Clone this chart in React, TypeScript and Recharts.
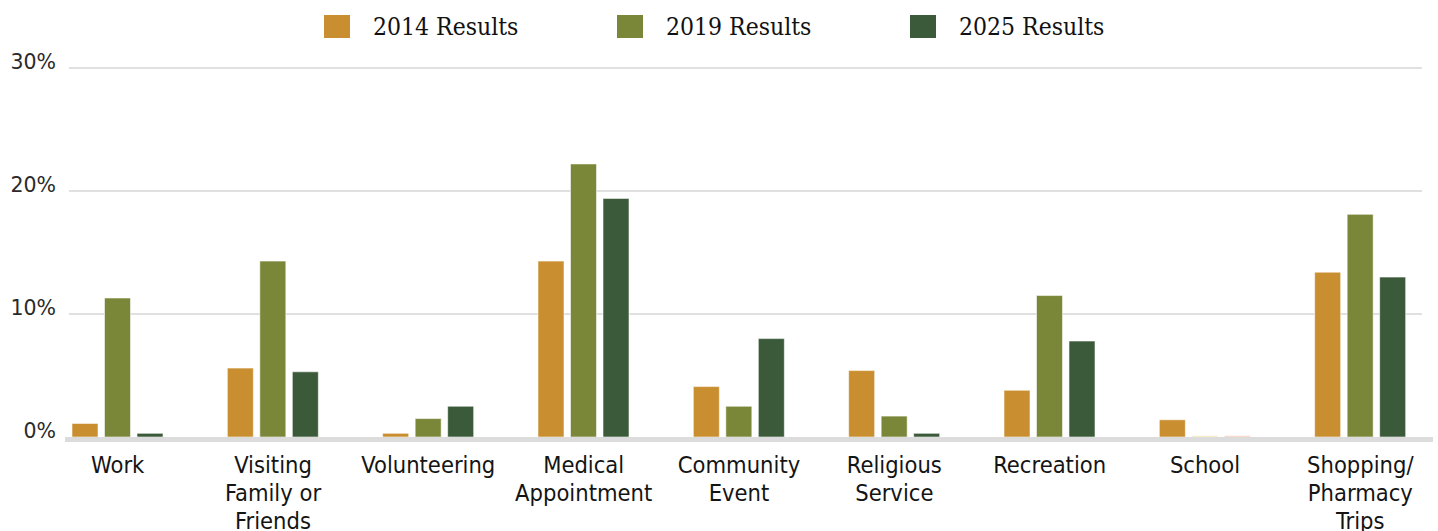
import React from 'react';
import { BarChart, Bar, XAxis, YAxis, CartesianGrid, ReferenceLine, Cell } from 'recharts';

const categories = [
  'Work',
  'Visiting\nFamily or\nFriends',
  'Volunteering',
  'Medical\nAppointment',
  'Community\nEvent',
  'Religious\nService',
  'Recreation',
  'School',
  'Shopping/\nPharmacy\nTrips',
];
const results2014 = [1.1, 5.6, 0.3, 14.3, 4.1, 5.4, 3.8, 1.4, 13.4];
const results2019 = [11.3, 14.3, 1.5, 22.2, 2.5, 1.7, 11.5, 0.1, 18.1];
const results2025 = [0.3, 5.3, 2.5, 19.4, 8.0, 0.3, 7.8, 0.1, 13.0];
const yTicks = [0, 10, 20, 30];

const seriesNames = ['2014 Results', '2019 Results', '2025 Results'];
const colors = ['#C98E2F', '#7A8638', '#3A5A3A'];
// the near-zero School bars show up as pale slivers in the original
const paleSchool = ['#C98E2F', '#F1E3A6', '#F2C3AE'];

const data = categories.map((c, i) => ({
  name: c,
  r2014: results2014[i],
  r2019: results2019[i],
  r2025: results2025[i],
}));

const W = 1438;
const H = 531;

const XTick = ({ x, y, payload }: any) => {
  const lines = String(payload.value).split('\n');
  return (
    <text
      x={x}
      y={y}
      textAnchor="middle"
      fill="#141414"
      style={{ fontFamily: '"DejaVu Sans Condensed", "DejaVu Sans", sans-serif', fontSize: 23.5 }}
    >
      {lines.map((l, i) => (
        <tspan key={i} x={x} dy={i === 0 ? 36 : 28}>
          {l}
        </tspan>
      ))}
    </text>
  );
};

const YTick = ({ x, y, payload }: any) => (
  <text
    x={x + 16}
    y={y - 6}
    textAnchor="end"
    dominantBaseline="central"
    fill="#2a2a2a"
    style={{ fontFamily: '"DejaVu Sans", sans-serif', fontSize: 20.5 }}
  >
    {payload.value}%
  </text>
);

const AxisBand = (props: any) => {
  const { x1, x2, y1 } = props;
  return <line x1={x1 + 25} x2={x2 - 5} y1={y1 + 2.5} y2={y1 + 2.5} stroke="#dcdcdc" strokeWidth={5} />;
};

const LegendRow = () => (
  <div style={{ position: 'absolute', left: 0, top: 0, width: W, height: 50 }}>
    {seriesNames.map((n, i) => (
      <div key={n} style={{ position: 'absolute', left: 324 + i * 293, top: 15, height: 23, display: 'flex', alignItems: 'center' }}>
        <div style={{ width: 26, height: 23, background: colors[i] }} />
        <span
          style={{
            marginLeft: 23,
            fontFamily: '"DejaVu Serif Condensed", "DejaVu Serif", serif',
            fontStretch: 'condensed',
            fontSize: 24.5,
            color: '#111',
            whiteSpace: 'nowrap',
            lineHeight: '23px',
          }}
        >
          {n}
        </span>
      </div>
    ))}
  </div>
);

export default function App() {
  return (
    <div style={{ position: 'absolute', left: 0, top: 0, width: W, height: H, background: '#fff' }}>
      <BarChart
        width={W}
        height={H}
        data={data}
        margin={{ top: 68, right: 0, bottom: 0, left: 0 }}
        barSize={26}
        barGap={6.5}
      >
        <CartesianGrid
          vertical={false}
          x={69}
          width={1353}
          stroke="#e0e0e0"
          strokeWidth={2}
          horizontalValues={[10, 20, 30]}
        />
        <XAxis
          dataKey="name"
          axisLine={false}
          tickLine={false}
          tickSize={0}
          tickMargin={0}
          height={94}
          interval={0}
          tick={<XTick />}
        />
        <YAxis
          domain={[0, 30]}
          ticks={yTicks}
          width={40}
          axisLine={false}
          tickLine={false}
          tickSize={0}
          tickMargin={0}
          tick={<YTick />}
        />
        <Bar dataKey="r2014" name={seriesNames[0]} fill={colors[0]} stroke="rgba(255,255,255,0.55)" isAnimationActive={false} />
        <Bar dataKey="r2019" name={seriesNames[1]} fill={colors[1]} stroke="rgba(255,255,255,0.55)" isAnimationActive={false}>
          {data.map((d, i) => (
            <Cell key={i} fill={d.name === 'School' ? paleSchool[1] : colors[1]} />
          ))}
        </Bar>
        <Bar dataKey="r2025" name={seriesNames[2]} fill={colors[2]} stroke="rgba(255,255,255,0.55)" isAnimationActive={false}>
          {data.map((d, i) => (
            <Cell key={i} fill={d.name === 'School' ? paleSchool[2] : colors[2]} />
          ))}
        </Bar>
        <ReferenceLine y={0} shape={<AxisBand />} />
      </BarChart>
      <LegendRow />
    </div>
  );
}
